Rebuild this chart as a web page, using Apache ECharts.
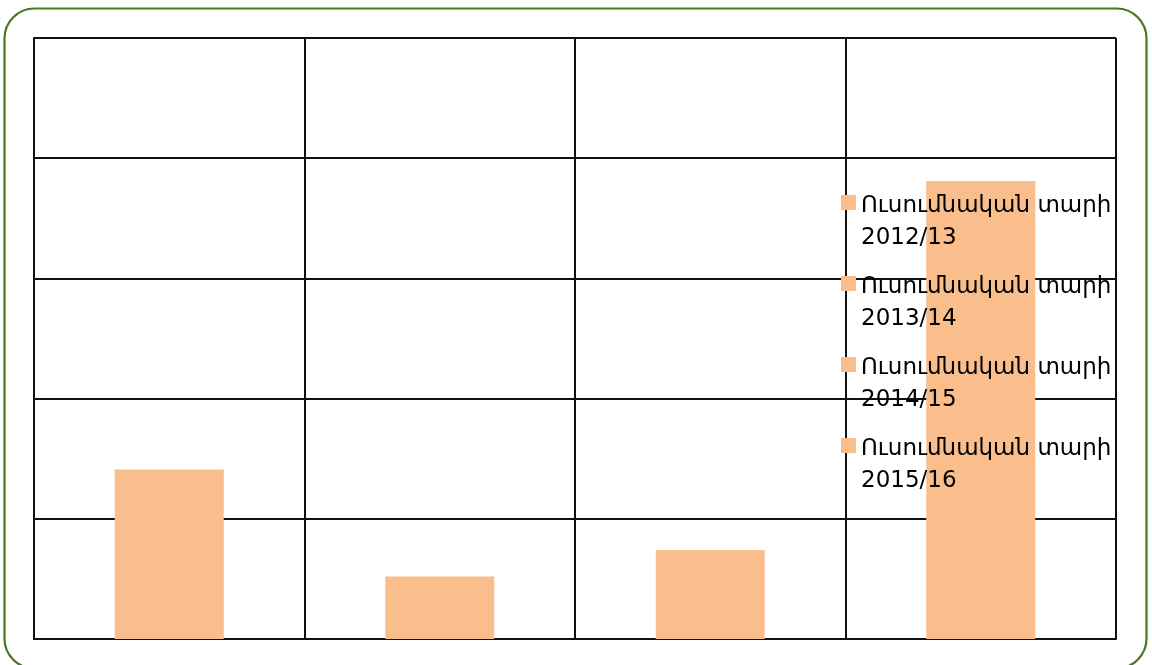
<!DOCTYPE html>
<html>
<head>
<meta charset="utf-8">
<script src="https://cdn.jsdelivr.net/npm/echarts@6/dist/echarts.min.js"></script>
<style>
  html, body { margin: 0; padding: 0; background: #fff; }
  #chart { width: 1152px; height: 665px; }
</style>
</head>
<body>
<div id="chart"></div>
<script>
// Academic years shown on the category axis and in the legend
const years = ['2012/13', '2013/14', '2014/15', '2015/16'];
const seriesPrefix = 'Ուսումնական տարի';
// One value per academic year
const values = [14.1, 5.2, 7.4, 38.1];
// Value axis range
const yMin = 0;
const yMax = 50;
const yStep = 10;

const barColor = '#FABD8C';
const lineColor = '#111111';

const names = years.map(y => seriesPrefix + ' ' + y);

// each year is its own series so the legend lists it; stacked so bars stay centred
const series = years.map((y, i) => ({
  name: names[i],
  type: 'bar',
  stack: 'years',
  barWidth: 109,
  itemStyle: { color: barColor },
  data: years.map((_, j) => (j === i ? values[i] : '-'))
}));

const chart = echarts.init(document.getElementById('chart'), null, { renderer: 'canvas' });
chart.setOption({
  animation: false,
  backgroundColor: '#ffffff',
  graphic: [{
    type: 'rect',
    shape: { x: 4.5, y: 8.5, width: 1142, height: 660, r: 30 },
    style: { fill: 'none', stroke: '#4A781C', lineWidth: 2.2 },
    silent: true,
    z: 0
  }],
  grid: { left: 34, right: 36, top: 38, bottom: 26, containLabel: false },
  legend: {
    orient: 'vertical',
    left: 841,
    top: 190.5,
    padding: 0,
    itemGap: 17,
    itemWidth: 15,
    itemHeight: 55,
    // square marker at the top of a tall item, so it lines up with the first text line
    icon: 'path://M0,0h15v15h-15z M0,55h0.01v0.01h-0.01z',
    data: names,
    formatter: n => n.replace(' 2', '\n2'),
    textStyle: {
      fontFamily: 'DejaVu Sans',
      fontSize: 23,
      lineHeight: 32,
      color: '#000'
    },
    z: 10
  },
  xAxis: {
    type: 'category',
    data: years,
    axisLine: { show: true, lineStyle: { color: lineColor, width: 2 } },
    axisTick: { show: false },
    axisLabel: { show: false },
    splitLine: { show: true, lineStyle: { color: lineColor, width: 2 } }
  },
  yAxis: {
    type: 'value',
    min: yMin,
    max: yMax,
    interval: yStep,
    axisLine: { show: true, lineStyle: { color: lineColor, width: 2 } },
    axisTick: { show: false },
    axisLabel: { show: false },
    splitLine: { show: true, lineStyle: { color: lineColor, width: 2 } }
  },
  series: series
});
</script>
</body>
</html>
